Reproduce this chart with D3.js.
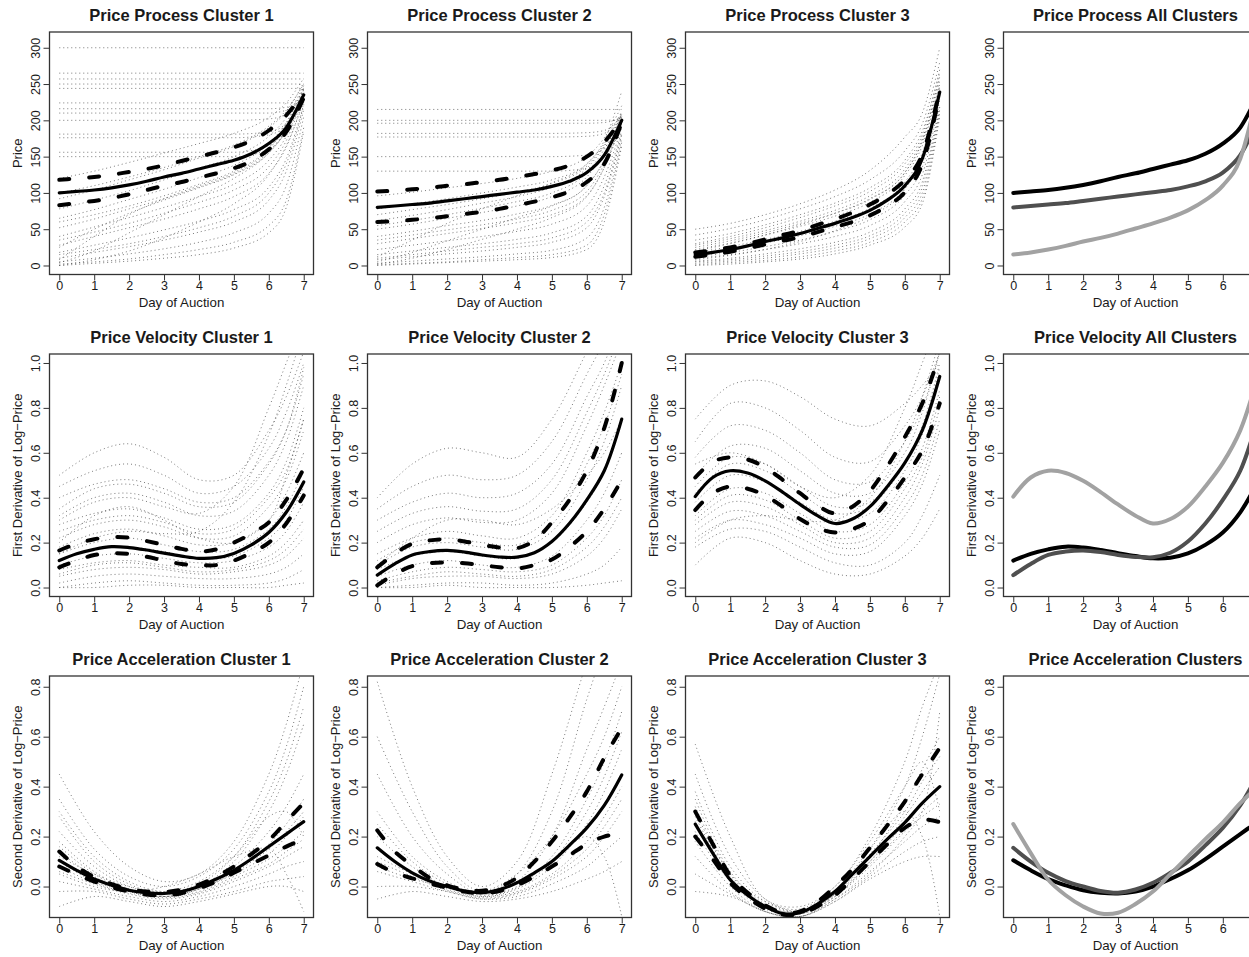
<!DOCTYPE html>
<html><head><meta charset="utf-8">
<script src="https://cdn.jsdelivr.net/npm/d3@7"></script>
<style>body{margin:0;background:#fff} text{font-family:"Liberation Sans",Arial,Helvetica,sans-serif;fill:#1a1a1a}</style>
</head><body><svg id="c" width="1249" height="957"></svg>
<script>
// ---------------- DATA ----------------
const days = [0,0.5,1,1.5,2,2.5,3,3.5,4,4.5,5,5.5,6,6.5,7];
const bgDays = [0,1,2,3,4,5,6,6.5,7];
const xTicks = [0,1,2,3,4,5,6,7];
const priceTicks = [0,50,100,150,200,250,300];
const velTicks = [0,0.2,0.4,0.6,0.8,1.0];
const accTicks = [0,0.2,0.4,0.6,0.8];

const priceTitles = ["Price Process Cluster 1","Price Process Cluster 2","Price Process Cluster 3","Price Process All Clusters"];
const velTitles = ["Price Velocity Cluster 1","Price Velocity Cluster 2","Price Velocity Cluster 3","Price Velocity All Clusters"];
const accTitles = ["Price Acceleration Cluster 1","Price Acceleration Cluster 2","Price Acceleration Cluster 3","Price Acceleration Clusters"];
const yLabels = ["Price","First Derivative of Log\u2212Price","Second Derivative of Log\u2212Price"];
const xLabel = "Day of Auction";

// Price process: mean and bands
const priceMean1  = [100,102,104,107,111,116,122,127,133,139,145,154,168,190,235];
const priceUpper1 = [118,120,122,125,129,133,138,144,150,156,163,172,186,207,238];
const priceLower1 = [83,86,89,93,98,104,110,115,121,127,134,144,160,184,231];
const priceMean2  = [80,82,84,86,89,92,95,98,101,104,109,116,128,152,200];
const priceUpper2 = [102,103,105,107,110,112,115,118,122,126,131,138,150,170,202];
const priceLower2 = [60,61,63,65,68,71,74,78,83,88,94,102,115,140,197];
const priceMean3  = [15,18,22,27,33,38,44,51,58,66,76,90,110,147,239];
const priceUpper3 = [18,21,25,30,36,42,48,56,64,73,84,98,118,153,241];
const priceLower3 = [12,15,19,24,29,34,39,46,53,60,69,82,101,140,236];

// Price velocity
const velMean1  = [0.12,0.15,0.17,0.182,0.178,0.167,0.153,0.14,0.13,0.133,0.152,0.19,0.245,0.335,0.47];
const velUpper1 = [0.165,0.195,0.215,0.225,0.222,0.207,0.19,0.172,0.16,0.17,0.2,0.24,0.29,0.39,0.53];
const velLower1 = [0.09,0.12,0.145,0.152,0.15,0.137,0.12,0.105,0.1,0.1,0.12,0.155,0.2,0.285,0.41];
const velMean2  = [0.055,0.105,0.145,0.16,0.165,0.158,0.145,0.136,0.135,0.155,0.205,0.285,0.39,0.52,0.75];
const velUpper2 = [0.09,0.15,0.195,0.21,0.215,0.205,0.19,0.178,0.175,0.21,0.29,0.39,0.52,0.71,1.0];
const velLower2 = [0.01,0.06,0.095,0.108,0.112,0.108,0.1,0.09,0.085,0.1,0.125,0.18,0.25,0.35,0.48];
const velMean3  = [0.405,0.49,0.52,0.51,0.475,0.425,0.37,0.32,0.285,0.305,0.36,0.45,0.555,0.70,0.94];
const velUpper3 = [0.49,0.56,0.58,0.57,0.535,0.48,0.42,0.365,0.33,0.36,0.43,0.54,0.67,0.82,1.04];
const velLower3 = [0.345,0.42,0.45,0.44,0.41,0.36,0.305,0.265,0.245,0.26,0.3,0.385,0.49,0.61,0.82];

// Price acceleration
const accMean1  = [0.105,0.065,0.03,0.005,-0.015,-0.025,-0.028,-0.02,0.0,0.03,0.065,0.11,0.16,0.21,0.26];
const accUpper1 = [0.14,0.08,0.038,0.01,-0.01,-0.02,-0.022,-0.012,0.008,0.04,0.08,0.13,0.185,0.26,0.335];
const accLower1 = [0.08,0.048,0.02,-0.003,-0.02,-0.032,-0.035,-0.027,-0.007,0.02,0.055,0.09,0.125,0.16,0.19];
const accMean2  = [0.155,0.1,0.055,0.022,0.0,-0.018,-0.025,-0.012,0.015,0.055,0.1,0.165,0.235,0.325,0.447];
const accUpper2 = [0.225,0.14,0.085,0.035,0.005,-0.012,-0.017,0.0,0.035,0.1,0.18,0.275,0.38,0.515,0.635];
const accLower2 = [0.09,0.055,0.033,0.012,-0.005,-0.02,-0.027,-0.018,0.005,0.04,0.08,0.125,0.17,0.2,0.215];
const accMean3  = [0.25,0.134,0.027,-0.035,-0.08,-0.108,-0.105,-0.07,-0.02,0.05,0.12,0.19,0.256,0.334,0.40];
const accUpper3 = [0.30,0.17,0.045,-0.025,-0.075,-0.104,-0.1,-0.06,0.0,0.07,0.155,0.245,0.34,0.45,0.555];
const accLower3 = [0.2,0.11,0.015,-0.045,-0.088,-0.112,-0.11,-0.08,-0.035,0.03,0.1,0.17,0.235,0.268,0.258];

// Individual auction curves (values at bgDays)
const priceBg1 = [
 [300,300,300,300,300,300,300,300,300],[265,265,265,265,265,265,265,265,265],
 [257,257,257,257,257,257,257,257,257],[250,250,250,250,250,250,250,250,250],
 [244,244,244,244,244,244,244,244,244],[224,224,224,224,224,224,224,224,228],
 [216,216,216,216,216,216,216,218,230],[210,210,210,210,210,210,210,214,232],
 [200,200,200,200,200,200,202,208,236],[181,181,181,181,181,181,184,196,238],
 [176,176,176,176,176,176,180,194,240],[156,156,156,156,156,156,165,190,242],
 [150,150,150,150,150,150,160,186,244],[2,5,9,15,22,32,55,90,190],
 [5,10,16,23,32,45,72,110,205],[10,18,26,35,46,60,90,130,215],
 [18,28,38,49,61,77,108,147,222],[28,40,52,64,78,95,127,163,230],
 [40,53,66,80,95,112,145,178,236],[52,64,78,92,108,126,157,188,240],
 [65,77,91,105,121,138,168,197,244],[78,90,103,118,134,150,178,204,248],
 [92,104,118,132,148,164,190,212,252],[120,130,142,155,168,182,204,224,258],
 [8,40,70,92,110,128,160,192,235],[4,20,45,70,95,120,155,185,228],
 [0,3,6,10,15,24,45,80,185],[15,22,30,40,52,68,100,140,220],
 [35,46,58,72,87,104,136,172,234],[60,70,82,96,112,130,162,195,246],
 [100,110,122,135,150,166,192,214,250],[0,8,20,38,60,85,125,165,225],
 [25,50,72,90,107,125,155,185,232]
];
const priceBg2 = [
 [215,215,215,215,215,215,215,215,215],[200,200,200,200,200,200,200,200,202],
 [196,196,196,196,196,196,196,197,204],[182,182,182,182,182,182,183,186,206],
 [177,177,177,177,177,177,178,182,208],[150,150,150,150,150,150,152,162,210],
 [130,130,130,130,130,130,134,150,212],[0,2,4,6,8,11,22,60,165],
 [3,6,9,12,16,21,38,80,175],[8,12,16,20,25,32,52,95,180],
 [15,20,25,30,36,45,68,110,185],[22,28,34,40,47,57,82,122,190],
 [30,37,44,51,59,70,96,135,195],[40,47,55,62,71,83,110,145,198],
 [50,57,65,73,82,95,122,155,200],[62,69,77,86,95,108,134,164,205],
 [78,85,92,100,108,118,140,168,212],[96,101,107,113,120,130,150,176,220],
 [5,18,34,50,66,82,110,145,205],[12,35,58,78,96,114,140,172,240],
 [1,3,5,8,11,15,28,70,170],[10,15,20,25,30,38,60,100,182],
 [35,42,49,56,64,76,102,140,196],[55,62,70,79,88,100,128,160,203],
 [70,77,84,92,101,113,137,166,208],[2,10,22,36,50,66,95,135,200]
];
const priceBg3 = [
 [0,2,5,9,16,28,53,85,205],[3,6,10,16,24,37,66,100,215],
 [6,10,16,23,32,46,78,115,222],[10,15,22,30,40,55,88,125,228],
 [12,18,26,35,47,63,97,135,234],[15,22,31,41,54,71,106,145,238],
 [18,26,36,47,61,79,115,155,242],[22,31,42,54,68,87,124,165,248],
 [28,37,48,61,76,96,133,175,255],[35,44,56,70,86,107,145,185,265],
 [42,51,63,78,95,118,158,195,280],[50,58,70,85,104,131,177,210,300],
 [8,14,22,33,48,68,105,150,245],[20,30,42,56,72,92,128,172,260],
 [1,4,7,12,20,32,60,92,210],[5,8,13,19,28,41,72,108,218],
 [25,34,45,58,72,91,128,170,250],[30,40,52,66,82,102,140,180,270]
];
const velBg1 = [
 [0.5,0.6,0.64,0.58,0.48,0.5,0.7,0.85,1.05],[0.45,0.52,0.55,0.5,0.42,0.45,0.62,0.78,1.0],
 [0.4,0.46,0.48,0.44,0.38,0.4,0.56,0.7,0.95],[0.32,0.4,0.42,0.38,0.32,0.34,0.5,0.65,0.9],
 [0.28,0.33,0.35,0.31,0.26,0.28,0.42,0.56,0.8],[0.22,0.28,0.3,0.27,0.22,0.23,0.36,0.48,0.7],
 [0.18,0.24,0.26,0.23,0.19,0.2,0.3,0.42,0.6],[0.15,0.2,0.22,0.19,0.16,0.17,0.26,0.36,0.52],
 [0.12,0.17,0.18,0.16,0.13,0.14,0.22,0.3,0.45],[0.1,0.14,0.15,0.13,0.11,0.12,0.18,0.25,0.38],
 [0.08,0.11,0.12,0.1,0.09,0.09,0.14,0.2,0.3],[0.05,0.08,0.09,0.08,0.06,0.07,0.1,0.14,0.22],
 [0.02,0.05,0.06,0.05,0.04,0.04,0.06,0.09,0.15],[0.0,0.02,0.03,0.02,0.01,0.01,0.02,0.04,0.08],
 [0.0,0.0,0.01,0.01,0.0,0.0,0.0,0.01,0.02],[0.2,0.32,0.36,0.3,0.22,0.2,0.3,0.5,0.75],
 [0.3,0.38,0.4,0.36,0.33,0.45,0.8,1.0,1.2],[0.15,0.22,0.25,0.24,0.25,0.38,0.68,0.9,1.15],
 [0.35,0.44,0.46,0.42,0.36,0.38,0.55,0.7,0.98],[0.25,0.3,0.32,0.29,0.24,0.26,0.4,0.52,0.75],
 [0.06,0.1,0.11,0.09,0.07,0.08,0.12,0.17,0.26]
];
const velBg2 = [
 [0.4,0.55,0.62,0.6,0.58,0.75,1.05,1.2,1.4],[0.35,0.45,0.5,0.48,0.5,0.65,0.95,1.1,1.3],
 [0.3,0.38,0.42,0.4,0.42,0.55,0.85,1.0,1.2],[0.2,0.28,0.31,0.29,0.3,0.42,0.72,0.9,1.1],
 [0.15,0.22,0.25,0.23,0.22,0.32,0.6,0.78,1.0],[0.1,0.18,0.2,0.18,0.17,0.25,0.48,0.65,0.9],
 [0.08,0.14,0.16,0.14,0.13,0.2,0.38,0.52,0.75],[0.05,0.1,0.12,0.1,0.09,0.14,0.3,0.42,0.6],
 [0.03,0.07,0.09,0.08,0.07,0.1,0.22,0.32,0.48],[0.01,0.04,0.05,0.05,0.04,0.06,0.14,0.22,0.35],
 [0.0,0.01,0.02,0.02,0.01,0.02,0.06,0.1,0.18],[0.0,0.0,0.01,0.0,0.0,0.0,0.01,0.02,0.03],
 [0.1,0.22,0.3,0.3,0.28,0.35,0.5,0.6,0.75],[0.25,0.33,0.36,0.34,0.35,0.48,0.78,0.95,1.15],
 [0.12,0.2,0.22,0.2,0.19,0.28,0.55,0.72,0.95],[0.02,0.05,0.07,0.06,0.05,0.08,0.18,0.27,0.4]
];
const velBg3 = [
 [0.75,0.9,0.92,0.85,0.75,0.72,0.82,0.9,1.0],[0.65,0.82,0.8,0.7,0.58,0.56,0.72,0.85,1.05],
 [0.58,0.72,0.7,0.6,0.48,0.47,0.65,0.8,1.05],[0.5,0.63,0.62,0.52,0.42,0.42,0.6,0.78,1.05],
 [0.45,0.58,0.55,0.45,0.36,0.38,0.56,0.72,1.0],[0.38,0.5,0.47,0.38,0.3,0.33,0.52,0.68,0.95],
 [0.32,0.44,0.42,0.33,0.25,0.28,0.47,0.62,0.88],[0.28,0.38,0.36,0.28,0.2,0.22,0.4,0.55,0.8],
 [0.22,0.3,0.28,0.22,0.15,0.16,0.32,0.46,0.7],[0.18,0.26,0.25,0.18,0.11,0.1,0.2,0.32,0.5],
 [0.1,0.22,0.2,0.12,0.06,0.06,0.14,0.22,0.35],[0.55,0.6,0.55,0.45,0.4,0.5,0.8,1.0,1.2],
 [0.2,0.3,0.32,0.3,0.3,0.4,0.65,0.85,1.1],[0.42,0.55,0.52,0.42,0.33,0.36,0.55,0.7,0.98],
 [0.3,0.41,0.39,0.3,0.22,0.25,0.44,0.58,0.85],[0.25,0.34,0.32,0.25,0.18,0.19,0.36,0.5,0.75]
];
const accBg1 = [
 [0.45,0.22,0.08,0.02,0.05,0.18,0.45,0.65,0.9],[0.35,0.15,0.04,0.0,0.04,0.15,0.38,0.56,0.8],
 [0.28,0.1,0.01,-0.03,0.0,0.1,0.3,0.45,0.65],[0.22,0.08,0.0,-0.03,0.0,0.08,0.22,0.32,0.45],
 [0.18,0.06,-0.01,-0.04,-0.01,0.06,0.17,0.25,0.35],[0.14,0.04,-0.02,-0.04,-0.01,0.05,0.13,0.2,0.28],
 [0.1,0.02,-0.02,-0.04,-0.02,0.04,0.11,0.16,0.22],[0.06,0.01,-0.03,-0.05,-0.03,0.02,0.08,0.12,0.16],
 [0.02,-0.01,-0.04,-0.06,-0.04,0.0,0.05,0.08,0.1],[-0.02,-0.02,-0.05,-0.07,-0.05,-0.02,0.02,0.03,0.04],
 [-0.08,-0.04,-0.06,-0.08,-0.06,-0.03,0.0,0.0,-0.02],[0.05,0.0,-0.02,0.0,0.05,0.12,0.15,0.05,-0.1],
 [0.12,0.05,0.0,-0.02,0.02,0.12,0.28,0.3,0.2],[0.3,0.12,0.02,-0.02,0.01,0.12,0.34,0.5,0.72],
 [0.16,0.05,-0.015,-0.04,-0.01,0.055,0.15,0.22,0.3],[0.08,0.015,-0.025,-0.045,-0.025,0.03,0.09,0.14,0.19]
];
const accBg2 = [
 [0.82,0.4,0.12,0.0,0.1,0.45,0.9,1.1,1.3],[0.6,0.3,0.08,-0.02,0.05,0.3,0.75,0.95,1.1],
 [0.45,0.2,0.05,-0.03,0.02,0.2,0.55,0.72,0.9],[0.3,0.12,0.02,-0.03,0.0,0.12,0.35,0.5,0.7],
 [0.2,0.08,0.0,-0.04,-0.01,0.08,0.25,0.38,0.55],[0.12,0.05,-0.01,-0.04,-0.02,0.05,0.18,0.28,0.4],
 [0.06,0.02,-0.02,-0.05,-0.03,0.03,0.12,0.2,0.3],[0.0,0.0,-0.02,-0.05,-0.04,0.01,0.08,0.14,0.2],
 [-0.05,-0.02,-0.04,-0.06,-0.05,-0.02,0.03,0.06,0.1],[0.08,0.03,0.0,-0.02,0.02,0.1,0.2,0.12,-0.12],
 [0.15,0.05,0.0,-0.02,0.05,0.2,0.45,0.6,0.8],[0.25,0.1,0.01,-0.035,-0.005,0.1,0.3,0.44,0.62],
 [0.1,0.04,-0.015,-0.045,-0.025,0.04,0.15,0.24,0.35]
];
const accBg3 = [
 [0.57,0.2,-0.05,-0.08,0.0,0.2,0.5,0.72,0.9],[0.45,0.12,-0.05,-0.1,-0.03,0.15,0.4,0.6,0.85],
 [0.38,0.08,-0.06,-0.1,-0.03,0.12,0.33,0.47,0.6],[0.32,0.05,-0.08,-0.11,-0.04,0.1,0.28,0.38,0.48],
 [0.28,0.04,-0.08,-0.1,-0.03,0.1,0.25,0.33,0.4],[0.22,0.02,-0.09,-0.11,-0.04,0.08,0.22,0.28,0.33],
 [0.18,0.0,-0.1,-0.12,-0.05,0.06,0.18,0.24,0.28],[0.12,-0.02,-0.1,-0.12,-0.06,0.04,0.14,0.18,0.2],
 [0.05,-0.03,-0.1,-0.12,-0.06,0.03,0.1,0.12,0.12],[-0.02,-0.04,-0.1,-0.12,-0.05,0.05,0.2,0.3,0.7],
 [0.25,0.03,-0.08,-0.1,-0.02,0.15,0.3,0.2,-0.12],[0.3,0.05,-0.06,-0.09,0.0,0.18,0.4,0.5,0.3],
 [0.26,0.03,-0.085,-0.105,-0.035,0.09,0.23,0.3,0.36],[0.35,0.06,-0.07,-0.1,-0.02,0.13,0.3,0.42,0.52]
];

// ---------------- LAYOUT ----------------
const svg = d3.select("#c");
const SVG_W = 1249;
svg.append("rect").attr("width",SVG_W).attr("height",957).attr("fill","#fff");
const colLeft = [49.5, 367.5, 685.5, 1003.5];
const rowTop = [32, 354, 676];
const rowH = [242.5, 242.5, 241.5];
const W = 264;
const xDomain = [-0.28, 7.28];
const yDomains = [[-12.4,321.7],[-0.04,1.04],[-0.124,0.843]];
const allColors = ["#000000","#4f4f4f","#a2a2a2"];

const rows = [
 {ticks: priceTicks, fmt: d3.format("d"), titles: priceTitles, curve: d3.curveMonotoneX,
  clusters: [{m:priceMean1,u:priceUpper1,l:priceLower1,bg:priceBg1},{m:priceMean2,u:priceUpper2,l:priceLower2,bg:priceBg2},{m:priceMean3,u:priceUpper3,l:priceLower3,bg:priceBg3}]},
 {ticks: velTicks, fmt: d3.format(".1f"), titles: velTitles, curve: d3.curveCatmullRom,
  clusters: [{m:velMean1,u:velUpper1,l:velLower1,bg:velBg1},{m:velMean2,u:velUpper2,l:velLower2,bg:velBg2},{m:velMean3,u:velUpper3,l:velLower3,bg:velBg3}]},
 {ticks: accTicks, fmt: d3.format(".1f"), titles: accTitles, curve: d3.curveCatmullRom,
  clusters: [{m:accMean1,u:accUpper1,l:accLower1,bg:accBg1},{m:accMean2,u:accUpper2,l:accLower2,bg:accBg2},{m:accMean3,u:accUpper3,l:accLower3,bg:accBg3}]}
];

rows.forEach((row, r) => {
  for (let c = 0; c < 4; c++) {
    const h = rowH[r];
    const g = svg.append("g").attr("transform", `translate(${colLeft[c]},${rowTop[r]})`);
    const x = d3.scaleLinear().domain(xDomain).range([0, W]);
    const y = d3.scaleLinear().domain(yDomains[r]).range([h, 0]);
    const cid = `clip${r}_${c}`;
    g.append("clipPath").attr("id", cid).append("rect").attr("width", W).attr("height", h);
    const plot = g.append("g").attr("clip-path", `url(#${cid})`);
    const mk = (xs) => d3.line().x((d,i) => x(xs[i])).y(d => y(d)).curve(row.curve);
    const lineMain = mk(days), lineBg = mk(bgDays);

    if (c < 3) {
      const cl = row.clusters[c];
      plot.selectAll("path.bg").data(cl.bg).join("path").attr("class","bg")
        .attr("d", lineBg).attr("fill","none").attr("stroke","#222")
        .attr("stroke-opacity",0.6).attr("stroke-width",1).attr("stroke-dasharray","1,3");
      [cl.u, cl.l].forEach(arr => {
        plot.append("path").attr("d", lineMain(arr)).attr("fill","none").attr("stroke","#000")
          .attr("stroke-width",4).attr("stroke-dasharray","10,20").attr("stroke-linecap","round");
      });
      plot.append("path").attr("d", lineMain(cl.m)).attr("fill","none").attr("stroke","#000")
        .attr("stroke-width",3.2).attr("stroke-linecap","round");
    } else {
      row.clusters.forEach((cl, k) => {
        plot.append("path").attr("d", lineMain(cl.m)).attr("fill","none").attr("stroke", allColors[k])
          .attr("stroke-width",4).attr("stroke-linecap","round");
      });
    }

    g.append("rect").attr("width", W).attr("height", h).attr("fill","none")
      .attr("stroke","#333").attr("stroke-width",1.3);

    // only ticks that fall inside the visible canvas
    const visTicks = xTicks.filter(t => colLeft[c] + x(t) + 5 < SVG_W);
    const xa = g.append("g").attr("transform", `translate(0,${h})`)
      .call(d3.axisBottom(x).tickValues(visTicks).tickSize(6).tickFormat(d3.format("d")));
    xa.select(".domain").remove();
    xa.selectAll("line").attr("stroke","#333");
    xa.selectAll("text").attr("y",15).attr("dy",0).style("font-size","12.5px")
      .style("font-family",'"Liberation Sans",Arial,sans-serif').attr("fill","#1a1a1a");

    const ya = g.append("g").call(d3.axisLeft(y).tickValues(row.ticks).tickSize(6).tickFormat(row.fmt));
    ya.select(".domain").remove();
    ya.selectAll("line").attr("stroke","#333");
    ya.selectAll("text").attr("x",0).attr("y",-10).attr("dy",0).attr("text-anchor","middle")
      .attr("transform","rotate(-90)").style("font-size","12.5px")
      .style("font-family",'"Liberation Sans",Arial,sans-serif').attr("fill","#1a1a1a");

    g.append("text").attr("x", W/2).attr("y", -11.3).attr("text-anchor","middle")
      .style("font-size","16.5px").style("font-weight","bold").text(row.titles[c]);
    g.append("text").attr("x", W/2).attr("y", h + 32.5).attr("text-anchor","middle")
      .style("font-size","13.3px").text(xLabel);
    g.append("text").attr("transform", `translate(-27.5,${h/2}) rotate(-90)`).attr("text-anchor","middle")
      .style("font-size","13px").text(yLabels[r]);
  }
});
</script></body></html>
